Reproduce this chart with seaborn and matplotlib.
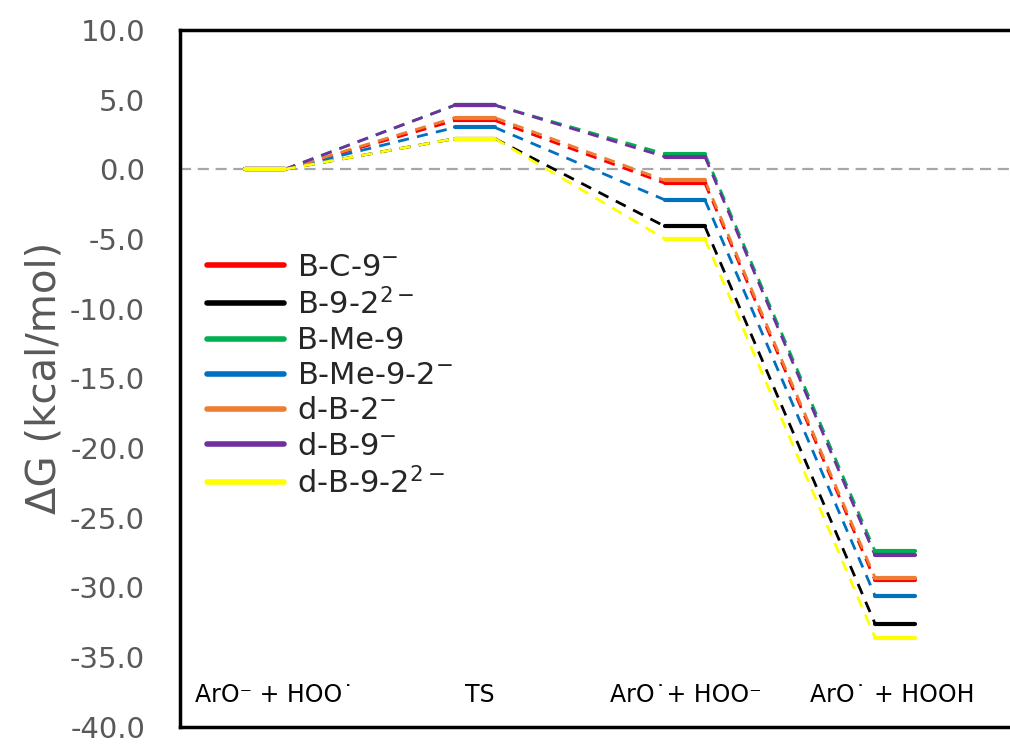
import numpy as np
import pandas as pd
import matplotlib
matplotlib.use("Agg")
import matplotlib.pyplot as plt
from matplotlib.lines import Line2D
import seaborn as sns

# Données : énergies libres relatives (kcal/mol) pour chaque étape
steps = ["ArO⁻ + HOO˙", "TS", "ArO˙+ HOO⁻", "ArO˙ + HOOH"]
species = ["B-C-9$^{-}$", "B-9-2$^{2-}$", "B-Me-9", "B-Me-9-2$^{-}$",
           "d-B-2$^{-}$", "d-B-9$^{-}$", "d-B-9-2$^{2-}$"]
colors = ["#FF0000", "#000000", "#00B050", "#0070C0", "#ED7D31", "#7030A0", "#FFFF00"]

g_bc9 = [0.0, 3.5, -1.0, -29.5]
g_b92 = [0.0, 2.2, -4.1, -32.6]
g_bme9 = [0.0, 4.6, 1.1, -27.4]
g_bme92 = [0.0, 3.0, -2.2, -30.6]
g_db2 = [0.0, 3.7, -0.8, -29.3]
g_db9 = [0.0, 4.6, 0.9, -27.7]
g_db92 = [0.0, 2.2, -5.0, -33.6]
energies = [g_bc9, g_b92, g_bme9, g_bme92, g_db2, g_db9, g_db92]

hw = 0.095  # demi-largeur des paliers

# Paliers (traits pleins) et connecteurs (tirets)
rows_lvl, rows_con = [], []
for sp, vals in zip(species, energies):
    for i, v in enumerate(vals):
        rows_lvl.append((sp, i, i - hw, v))
        rows_lvl.append((sp, i, i + hw, v))
        if i < len(vals) - 1:
            rows_con.append((sp, i, i + hw, v))
            rows_con.append((sp, i, i + 1 - hw, vals[i + 1]))
df_lvl = pd.DataFrame(rows_lvl, columns=["species", "seg", "x", "G"])
df_con = pd.DataFrame(rows_con, columns=["species", "seg", "x", "G"])

sns.set_style("white")
plt.rcParams["font.family"] = ["DejaVu Sans"]

fig = plt.figure(figsize=(10.1, 7.47), dpi=100)
ax = fig.add_axes([0.178, 0.027, 0.83, 0.933])

ax.axhline(0, color="#A6A6A6", lw=1.6, ls=(0, (5, 3)), zorder=1)

pal = dict(zip(species, colors))
sns.lineplot(data=df_con, x="x", y="G", hue="species", units="seg", estimator=None,
             palette=pal, hue_order=species, sort=False, lw=2, ls=(0, (4, 3)),
             legend=False, ax=ax, zorder=2)
sns.lineplot(data=df_lvl, x="x", y="G", hue="species", units="seg", estimator=None,
             palette=pal, hue_order=species, sort=False, lw=3,
             legend=False, ax=ax, zorder=3)

ax.set_xlim(-0.405, 3.586)
ax.set_ylim(-40, 10)
ax.set_yticks(np.arange(-40, 10.1, 5))
ax.set_yticklabels([f"{t:.1f}" for t in np.arange(-40, 10.1, 5)])
ax.tick_params(axis="y", length=0, labelsize=21, labelcolor="#595959", pad=25)
ax.set_xticks([])
ax.set_xlabel("")
ax.set_ylabel("ΔG (kcal/mol)", fontsize=29, color="#595959", labelpad=4)

for i, lab in enumerate(steps):
    ax.text(i * 0.98 + 0.045, -37.7, lab, ha="center", va="center", fontsize=17, color="black")

for s in ax.spines.values():
    s.set_color("black")
    s.set_linewidth(2.5)

handles = [Line2D([], [], color=c, lw=4, solid_capstyle="round") for c in colors]
ax.legend(handles, species, loc="upper left", bbox_to_anchor=(0.0, 0.72),
          frameon=False, fontsize=22, handlelength=2.5, handletextpad=0.45,
          labelspacing=0.2)

fig.savefig("out.png", dpi=100)
